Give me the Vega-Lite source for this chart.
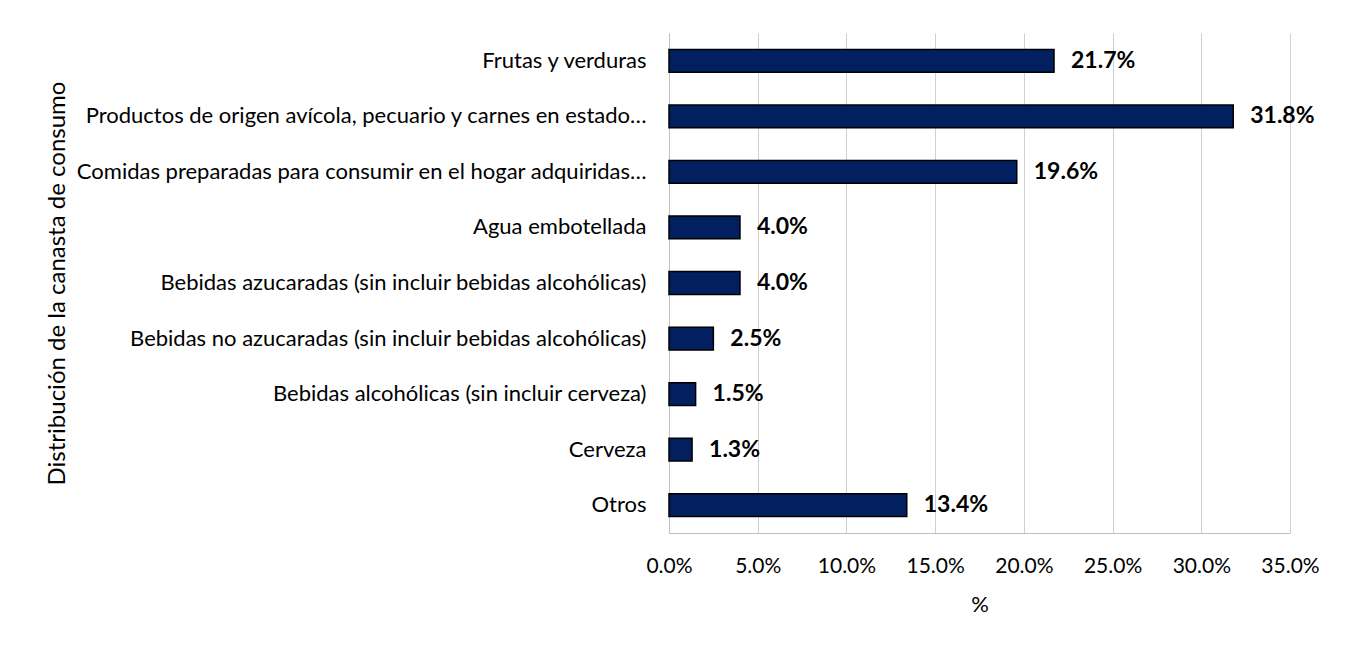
{
  "$schema": "https://vega.github.io/schema/vega-lite/v6.json",
  "autosize": {"type": "none"},
  "width": 621,
  "height": 500,
  "padding": {"left": 669, "top": 33, "right": 61, "bottom": 116},
  "background": "white",
  "config": {
    "font": "Lato",
    "view": {"stroke": null}
  },
  "data": {
    "values": [
      {"categoria": "Frutas y verduras", "valor": 0.217},
      {"categoria": "Productos de origen avícola, pecuario y carnes en estado…", "valor": 0.318},
      {"categoria": "Comidas preparadas para consumir en el hogar adquiridas…", "valor": 0.196},
      {"categoria": "Agua embotellada", "valor": 0.040},
      {"categoria": "Bebidas azucaradas (sin incluir bebidas alcohólicas)", "valor": 0.040},
      {"categoria": "Bebidas no azucaradas (sin incluir bebidas alcohólicas)", "valor": 0.025},
      {"categoria": "Bebidas alcohólicas (sin incluir cerveza)", "valor": 0.015},
      {"categoria": "Cerveza", "valor": 0.013},
      {"categoria": "Otros", "valor": 0.134}
    ]
  },
  "encoding": {
    "y": {
      "field": "categoria",
      "type": "nominal",
      "sort": null,
      "scale": {"paddingInner": 0.59, "paddingOuter": 0.295},
      "axis": {
        "title": "Distribución de la canasta de consumo",
        "titleFontSize": 24,
        "titleFontWeight": "normal",
        "titleColor": "#000000",
        "titleX": -612,
        "titleY": 250,
        "titleAngle": 270,
        "titleAlign": "center",
        "titleBaseline": "middle",
        "labelFontSize": 22,
        "labelColor": "#000000",
        "labelPadding": 23,
        "labelLimit": 700,
        "ticks": false,
        "domain": true,
        "domainColor": "#bfbfbf",
        "grid": false
      }
    },
    "x": {
      "field": "valor",
      "type": "quantitative",
      "scale": {"domain": [0, 0.35], "nice": false},
      "axis": {
        "title": "%",
        "titleFontSize": 22,
        "titleFontWeight": "normal",
        "titleColor": "#000000",
        "titlePadding": 18,
        "format": ".1%",
        "values": [0, 0.05, 0.1, 0.15, 0.2, 0.25, 0.3, 0.35],
        "labelFontSize": 21,
        "labelColor": "#000000",
        "labelPadding": 22,
        "labelOverlap": false,
        "labelFlush": false,
        "ticks": false,
        "domain": true,
        "domainColor": "#bfbfbf",
        "grid": true,
        "gridColor": "#d0d0d0",
        "gridWidth": 1
      }
    }
  },
  "layer": [
    {
      "mark": {"type": "bar", "color": "#022060", "stroke": "#000000", "strokeWidth": 1.5}
    },
    {
      "mark": {"type": "text", "align": "left", "baseline": "middle", "dx": 17, "fontSize": 23, "fontWeight": "bold", "color": "#000000"},
      "encoding": {
        "text": {"field": "valor", "type": "quantitative", "format": ".1%"}
      }
    }
  ]
}
